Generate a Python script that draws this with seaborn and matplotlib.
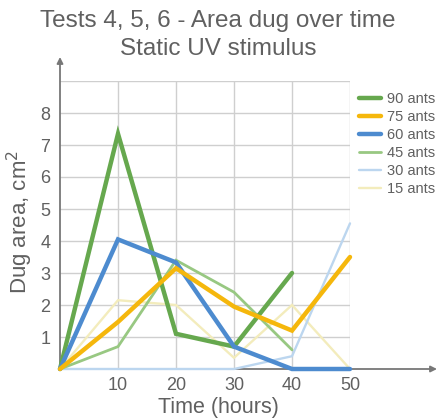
import matplotlib
matplotlib.use("Agg")
import matplotlib.pyplot as plt
import seaborn as sns
import numpy as np
import pandas as pd

hours = [0, 10, 20, 30, 40, 50]
ants_90 = [0, 7.35, 1.1, 0.7, 3.0, np.nan]
ants_75 = [0, 1.47, 3.15, 1.95, 1.2, 3.5]
ants_60 = [0, 4.05, 3.33, 0.7, 0.0, 0.0]
ants_45 = [0, 0.7, 3.4, 2.4, 0.6, np.nan]
ants_30 = [0, 0.0, 0.0, 0.0, 0.4, 4.55]
ants_15 = [0, 2.15, 2.0, 0.35, 2.0, 0.0]
series_labels = ["90 ants", "75 ants", "60 ants", "45 ants", "30 ants", "15 ants"]
x_ticks = [10, 20, 30, 40, 50]
y_ticks = [1, 2, 3, 4, 5, 6, 7, 8]

series = {"90 ants": ants_90, "75 ants": ants_75, "60 ants": ants_60,
          "45 ants": ants_45, "30 ants": ants_30, "15 ants": ants_15}
colors = {"90 ants": "#66a84e", "75 ants": "#f5b70c", "60 ants": "#4d8bcf",
          "45 ants": "#98c882", "30 ants": "#bcd6ef", "15 ants": "#f3ecbc"}
widths = {"90 ants": 3.2, "75 ants": 3.2, "60 ants": 3.2,
          "45 ants": 2.0, "30 ants": 1.7, "15 ants": 1.7}
zorders = {"90 ants": 6, "75 ants": 8, "60 ants": 7,
           "45 ants": 5, "30 ants": 4, "15 ants": 3}

rows = []
for name, vals in series.items():
    for h, v in zip(hours, vals):
        rows.append({"Time": h, "Area": v, "Series": name})
df = pd.DataFrame(rows)

sns.set_style("white")
plt.rcParams['font.family'] = ['Liberation Sans', 'DejaVu Sans']

fig = plt.figure(figsize=(4.38, 4.19), dpi=100)
ax = fig.add_axes([60/438, 1-369/419, 290/438, 288/419])

text_gray = "#606060"
for name in series_labels:
    sub = df[df["Series"] == name].dropna()
    sns.lineplot(data=sub, x="Time", y="Area", ax=ax, color=colors[name],
                 linewidth=widths[name], label=name, zorder=zorders[name],
                 estimator=None, solid_joinstyle="miter", clip_on=False)

ax.set_xlim(0, 50)
ax.set_ylim(0, 9)
ax.set_xticks(x_ticks)
ax.set_yticks(list(range(0, 10)))
ax.set_yticklabels([""] + [str(t) for t in y_ticks] + [""])
ax.set_xticklabels([str(t) for t in x_ticks])
ax.grid(True, color="#cfcfcf", linewidth=1.0)
ax.set_axisbelow(True)
for s in ax.spines.values():
    s.set_visible(False)
ax.tick_params(axis="x", length=0, labelsize=13, colors=text_gray, pad=6)
ax.tick_params(axis="y", length=0, labelsize=13, colors=text_gray, pad=7)

ax.set_xlabel("")
ax.set_ylabel("")
fig.text(218/438, 1-407/419, "Time (hours)", ha="center", va="center",
         fontsize=15.5, color=text_gray)
fig.text(20/438, 1-222/419, "Dug area, cm$^2$", ha="center", va="center",
         rotation=90, fontsize=16, color=text_gray)

# axis arrows
ax.annotate("", xy=(437/438, 1-369/419), xytext=(60/438, 1-369/419),
            xycoords="figure fraction", textcoords="figure fraction",
            arrowprops=dict(arrowstyle="-|>", color="#777777", lw=1.3,
                            mutation_scale=9, shrinkA=0, shrinkB=0))
ax.annotate("", xy=(60/438, 1-57/419), xytext=(60/438, 1-369/419),
            xycoords="figure fraction", textcoords="figure fraction",
            arrowprops=dict(arrowstyle="-|>", color="#777777", lw=1.3,
                            mutation_scale=9, shrinkA=0, shrinkB=0))

fig.text(218/438, 1-21/419, "Tests 4, 5, 6 - Area dug over time", ha="center",
         va="center", fontsize=17.5, color=text_gray)
fig.text(218/438, 1-49/419, "Static UV stimulus", ha="center",
         va="center", fontsize=17.5, color=text_gray)

handles, labels = ax.get_legend_handles_labels()
order = [labels.index(l) for l in series_labels]
leg = ax.legend([handles[i] for i in order], [labels[i] for i in order],
                loc="upper left", bbox_to_anchor=(359/438, 1-92/419),
                bbox_transform=fig.transFigure, frameon=False,
                fontsize=10.5, handlelength=1.5, handletextpad=0.4,
                labelspacing=0.28, borderaxespad=0, borderpad=0)
for t in leg.get_texts():
    t.set_color(text_gray)

fig.savefig("out.png", dpi=100)
